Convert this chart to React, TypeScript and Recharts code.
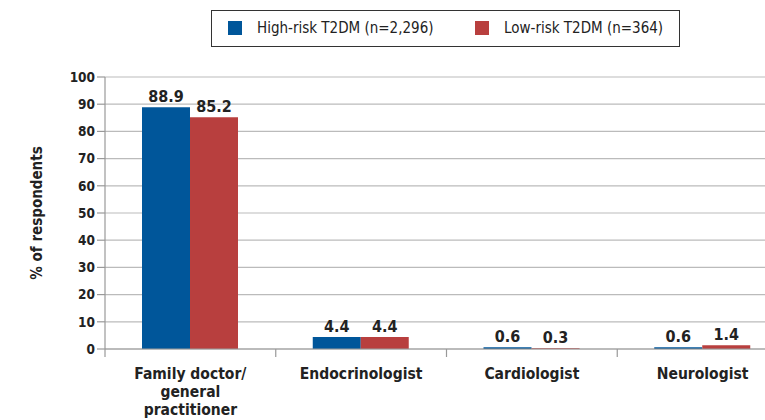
import { BarChart, Bar, XAxis, YAxis, CartesianGrid, Legend, LabelList } from 'recharts';

const categories = ['Family doctor/ general practitioner', 'Endocrinologist', 'Cardiologist', 'Neurologist'];
const highRisk = [88.9, 4.4, 0.6, 0.6];
const lowRisk = [85.2, 4.4, 0.3, 1.4];
const yTicks = [0, 10, 20, 30, 40, 50, 60, 70, 80, 90, 100];

const seriesNames = { high: 'High-risk T2DM (n=2,296)', low: 'Low-risk T2DM (n=364)' };
const BLUE = '#00569a';
const RED = '#b83f3e';
const FONT = "'Liberation Sans Narrow', 'DejaVu Sans Condensed', Arial, sans-serif";
const TEXT = '#222';

const data = categories.map((name, i) => ({ name, high: highRisk[i], low: lowRisk[i] }));

const CHART_W = 800;
const PLOT_LEFT = 105;
const PLOT_RIGHT_MARGIN = 12;
const band = (CHART_W - PLOT_LEFT - PLOT_RIGHT_MARGIN) / categories.length;

function wrap(text: string, max: number) {
  const words = text.split(' ');
  const lines: string[] = [];
  let cur = '';
  words.forEach((w) => {
    if (!cur) cur = w;
    else if ((cur + ' ' + w).length <= max) cur += ' ' + w;
    else {
      lines.push(cur);
      cur = w;
    }
  });
  if (cur) lines.push(cur);
  return lines;
}

function CategoryTick(props: any) {
  const { x, y, payload } = props;
  const lines = wrap(payload.value, 14);
  const left = x - band / 2;
  return (
    <g>
      <line x1={left} y1={y - 8} x2={left} y2={y} stroke="#999" strokeWidth={1.2} />
      <text x={x} y={y + 22} textAnchor="middle" fill={TEXT} fontSize={15.5} fontWeight="bold" fontFamily={FONT}>
        {lines.map((l, i) => (
          <tspan key={i} x={x} dy={i === 0 ? 0 : 18}>
            {l}
          </tspan>
        ))}
      </text>
    </g>
  );
}

function LegendBox() {
  const items = [
    { color: BLUE, label: seriesNames.high, left: 16 },
    { color: RED, label: seriesNames.low, left: 263 },
  ];
  return (
    <div
      style={{
        position: 'relative',
        border: '1.5px solid #333',
        width: 469,
        height: 37,
        boxSizing: 'border-box',
        fontFamily: FONT,
        fontSize: 15,
        color: TEXT,
        whiteSpace: 'nowrap',
      }}
    >
      {items.map((it, i) => (
        <div
          key={i}
          style={{ position: 'absolute', left: it.left, top: 0, height: 34, display: 'flex', alignItems: 'center' }}
        >
          <span style={{ width: 14, height: 14, background: it.color, display: 'inline-block', marginRight: 15 }} />
          <span>{it.label}</span>
        </div>
      ))}
    </div>
  );
}

export default function App() {
  return (
    <div style={{ position: 'absolute', left: 0, top: 0, width: 765, height: 420, overflow: 'hidden', background: '#fff' }}>
      <BarChart
        width={CHART_W}
        height={420}
        data={data}
        margin={{ top: 39, right: PLOT_RIGHT_MARGIN, left: 0, bottom: 41 }}
        barGap={0}
        barSize={48}
      >
        <CartesianGrid vertical={false} stroke="#bbb" strokeWidth={1.2} />
        <XAxis
          dataKey="name"
          interval={0}
          axisLine={{ stroke: '#999', strokeWidth: 1.2 }}
          tickLine={false}
          tick={<CategoryTick />}
        />
        <YAxis
          domain={[0, 100]}
          ticks={yTicks}
          interval={0}
          width={PLOT_LEFT}
          axisLine={{ stroke: '#999', strokeWidth: 1.2 }}
          tickLine={{ stroke: '#999', strokeWidth: 1.2 }}
          tickSize={8}
          tick={{ fill: TEXT, fontSize: 13.5, fontWeight: 'bold', fontFamily: FONT }}
          label={{
            value: '% of respondents',
            angle: -90,
            position: 'insideLeft',
            offset: 37,
            style: { fill: TEXT, fontSize: 15, fontWeight: 'bold', fontFamily: FONT, textAnchor: 'middle' },
          }}
        />
        <Legend
          verticalAlign="top"
          height={38}
          wrapperStyle={{ top: 10, left: 211, width: 470 }}
          content={() => <LegendBox />}
        />
        <Bar dataKey="high" name={seriesNames.high} fill={BLUE} isAnimationActive={false}>
          <LabelList dataKey="high" position="top" offset={5} fill={TEXT} fontSize={16} fontWeight="bold" fontFamily={FONT} />
        </Bar>
        <Bar dataKey="low" name={seriesNames.low} fill={RED} isAnimationActive={false}>
          <LabelList dataKey="low" position="top" offset={5} fill={TEXT} fontSize={16} fontWeight="bold" fontFamily={FONT} />
        </Bar>
      </BarChart>
    </div>
  );
}
